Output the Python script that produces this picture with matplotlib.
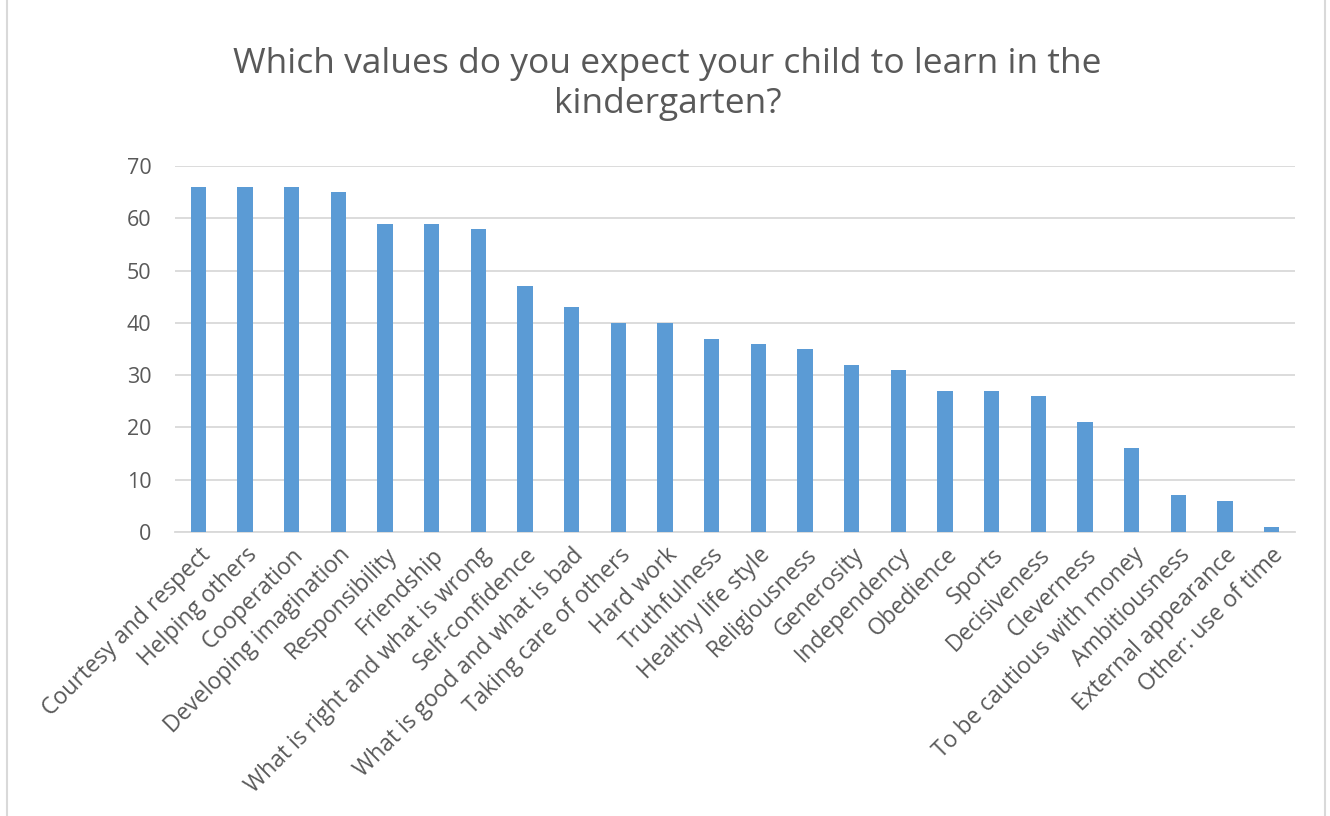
import matplotlib
matplotlib.use("Agg")
import matplotlib.pyplot as plt
from matplotlib.patches import Rectangle

categories = ["Courtesy and respect", "Helping others", "Cooperation",
              "Developing imagination", "Responsibility", "Friendship",
              "What is right and what is wrong", "Self-confidence",
              "What is good and what is bad", "Taking care of others",
              "Hard work", "Truthfulness", "Healthy life style",
              "Religiousness", "Generosity", "Independency", "Obedience",
              "Sports", "Decisiveness", "Cleverness",
              "To be cautious with money", "Ambitiousness",
              "External appearance", "Other: use of time"]
values = [66, 66, 66, 65, 59, 59, 58, 47, 43, 40, 40, 37, 36, 35, 32, 31,
          27, 27, 26, 21, 16, 7, 6, 1]
yticks = [0, 10, 20, 30, 40, 50, 60, 70]

plt.rcParams['font.family'] = ['Open Sans', 'DejaVu Sans']
text_color = '#595959'
grid_color = '#D9D9D9'

fig = plt.figure(figsize=(13.3, 8.16), dpi=100)
ax = fig.add_axes([175/1330, 1-532/816, (1295-175)/1330, (532-166)/816])

x = list(range(len(categories)))
ax.bar(x, values, width=0.33, color='#5B9BD5', zorder=3)
ax.set_xlim(-0.5, len(categories)-0.5)
ax.set_ylim(0, 70)
ax.set_yticks(yticks)
ax.set_yticklabels([str(v) for v in yticks], fontsize=15.5, color=text_color)
ax.yaxis.grid(True, color=grid_color, linewidth=1.3, zorder=0)
ax.set_axisbelow(True)
ax.set_xticks(x)
ax.set_xticklabels(categories, rotation=45, ha='right', rotation_mode='anchor',
                   fontsize=16.5, color=text_color)
ax.tick_params(axis='both', length=0)
ax.tick_params(axis='y', pad=17)
ax.tick_params(axis='x', pad=8)
for s in ['top', 'right', 'left']:
    ax.spines[s].set_visible(False)
ax.spines['bottom'].set_color(grid_color)
ax.spines['bottom'].set_linewidth(1.3)

fig.text(0.502, 1-84/816,
         "Which values do you expect your child to learn in the\nkindergarten?",
         ha='center', va='center', fontsize=25.5, color=text_color,
         linespacing=1.2)

fig.patches.append(Rectangle((7/1330, -0.01), (1325-7)/1330, 1.05,
                             transform=fig.transFigure, fill=False,
                             edgecolor=grid_color, linewidth=1.5))

fig.savefig("out.png", dpi=100, facecolor='white')
